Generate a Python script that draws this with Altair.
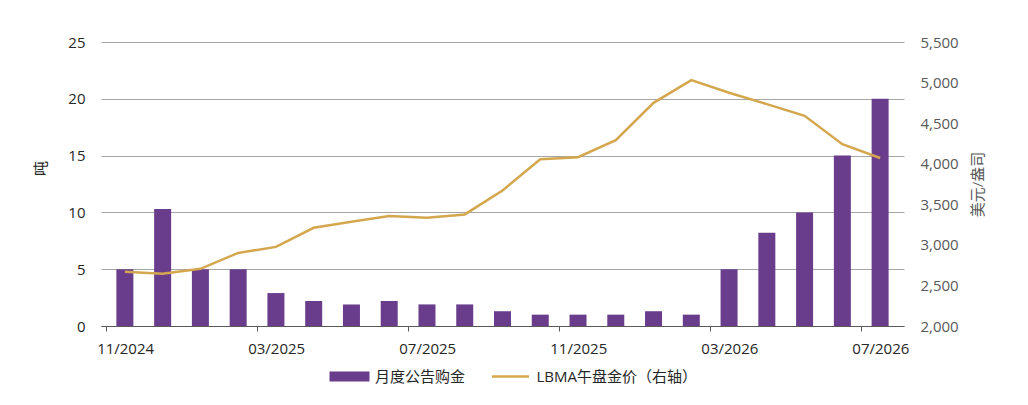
import altair as alt
import pandas as pd

months = ["11/2024", "12/2024", "01/2025", "02/2025", "03/2025", "04/2025", "05/2025",
          "06/2025", "07/2025", "08/2025", "09/2025", "10/2025", "11/2025", "12/2025",
          "01/2026", "02/2026", "03/2026", "04/2026", "05/2026", "06/2026", "07/2026"]
tonnes = [5.0, 10.3, 5.0, 5.0, 2.9, 2.2, 1.9, 2.2, 1.9, 1.9, 1.3, 1.0, 1.0, 1.0,
          1.3, 1.0, 5.0, 8.2, 10.0, 15.0, 20.0]
prices = [2670, 2645, 2705, 2900, 2975, 3210, 3285, 3355, 3335, 3375, 3670, 4055,
          4080, 4290, 4750, 5030, 4875, 4735, 4590, 4240, 4070]
bar_name = "月度公告购金"
line_name = "LBMA午盘金价（右轴）"

df = pd.DataFrame({
    "month": months,
    "pos": [i + 0.5 for i in range(len(months))],
    "tonnes": tonnes,
    "price": prices,
    "s1": bar_name,
    "s2": line_name,
})

FONT = "'Open Sans', 'Noto Sans CJK SC', sans-serif"
label_expr = "[" + ",".join("'%s'" % m for m in months) + "][datum.value]"
W, H = 803, 284

x = alt.X("pos:Q",
          scale=alt.Scale(domain=[0, 21], nice=False, zero=False),
          axis=alt.Axis(values=[0, 4, 8, 12, 16, 20], labelExpr=label_expr, grid=False,
                        domainColor="#595959", domainWidth=1.2, tickColor="#595959",
                        tickSize=5, labelPadding=10, labelOffset=W / 21 / 2,
                        labelFontSize=15, labelColor="#262626",
                        labelFlush=False, title=None))

bars = alt.Chart(df).mark_bar(size=17).encode(
    x=x,
    y=alt.Y("tonnes:Q",
            scale=alt.Scale(domain=[0, 25], nice=False),
            axis=alt.Axis(values=[0, 5, 10, 15, 20, 25], grid=True, gridColor="#A6A6A6",
                          gridWidth=1.2, domain=False, ticks=False, labelPadding=16,
                          labelFontSize=15, labelColor="#262626", title="吨",
                          titleFontSize=15, titleFontWeight="normal", titleColor="#262626",
                          titleAngle=270, titleX=-61, titleY=126, titleAlign="center",
                          titleBaseline="middle")),
    color=alt.Color("s1:N", scale=alt.Scale(domain=[bar_name], range=["#6A3D8C"]),
                    legend=alt.Legend(orient="none", legendX=241, legendY=327, title=None,
                                      symbolType="M-4,-1H4V1H-4Z", symbolSize=100,
                                      symbolStrokeWidth=0, labelFontSize=15, labelLimit=400,
                                      labelColor="#262626", labelOffset=18)),
)

line = alt.Chart(df).mark_line(strokeWidth=2.5).encode(
    x=x,
    y=alt.Y("price:Q",
            scale=alt.Scale(domain=[2000, 5500], nice=False),
            axis=alt.Axis(orient="right", values=list(range(2000, 5501, 500)), format=",.0f",
                          grid=False, domain=False, ticks=False, labelPadding=16,
                          labelFontSize=15, labelColor="#595959", title="美元/盎司",
                          titleFontSize=15, titleFontWeight="normal", titleColor="#595959",
                          titleAngle=270, titleX=73, titleY=142, titleAlign="center",
                          titleBaseline="middle")),
    stroke=alt.Stroke("s2:N", scale=alt.Scale(domain=[line_name], range=["#D4A74E"]),
                      legend=alt.Legend(orient="none", legendX=402, legendY=327, title=None,
                                        symbolType="M-3.7,0H3.7", symbolSize=100,
                                        symbolStrokeWidth=2.5, labelFontSize=15, labelLimit=400,
                                        labelColor="#262626", labelOffset=18.5)),
)

chart = alt.layer(bars, line).resolve_scale(y="independent").properties(
    width=W, height=H,
    autosize=alt.AutoSizeParams(type="none"),
    padding={"left": 93, "top": 34, "right": 110, "bottom": 65},
).configure(font=FONT).configure_view(stroke=None).configure_axis(
    labelFont=FONT, titleFont=FONT
).configure_legend(labelFont=FONT)

chart.save("out.html", embed_options={"renderer": "svg", "actions": False})
